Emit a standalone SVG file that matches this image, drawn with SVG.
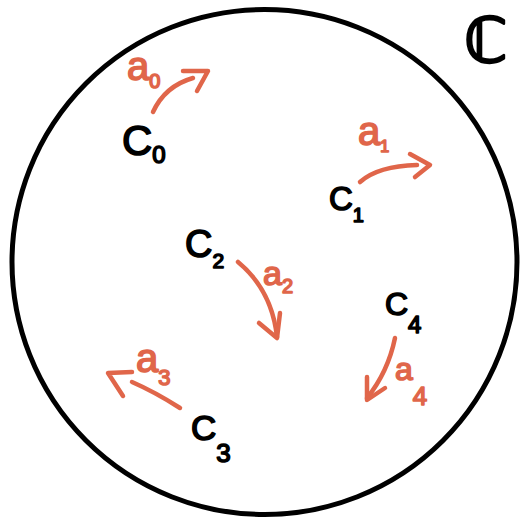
<svg xmlns="http://www.w3.org/2000/svg" width="520" height="519" viewBox="0 0 520 519">
<style>
.blk{font-family:"Liberation Sans","DejaVu Sans",sans-serif;fill:#000;stroke:#000;stroke-width:1.6;stroke-linejoin:round}
.org{font-family:"Liberation Sans","DejaVu Sans",sans-serif;fill:#E0664A;stroke:#E0664A;stroke-width:1.6;stroke-linejoin:round}
.arr{fill:none;stroke:#E0664A;stroke-width:4.5;stroke-linecap:round;stroke-linejoin:round}
</style>
<rect width="520" height="519" fill="#fff"/>
<g id="set">
<circle cx="264.5" cy="262" r="252.5" fill="none" stroke="#000" stroke-width="5"/>
<text x="464" y="62" font-family="DejaVu Sans,sans-serif" font-size="62" fill="#000" stroke="#000" stroke-width="2.5" stroke-linejoin="round">ℂ</text>
</g>
<g id="c0"><text class="blk" x="122" y="155" font-size="42">C<tspan font-size="24" dy="8">0</tspan></text></g>
<g id="c1"><text class="blk" x="329" y="210" font-size="33">C<tspan font-size="20" dy="12">1</tspan></text></g>
<g id="c2"><text class="blk" x="185" y="257" font-size="38">C<tspan font-size="21" dy="11">2</tspan></text></g>
<g id="c3"><text class="blk" x="191" y="440" font-size="35">C<tspan font-size="26" dy="22">3</tspan></text></g>
<g id="c4"><text class="blk" x="385" y="315" font-size="32">C<tspan font-size="24" dy="18">4</tspan></text></g>
<g id="connectors">
<g id="a0">
<path class="arr" d="M153 112 Q165 86 193 78"/>
<polyline class="arr" points="183,71 208,71 197,91"/>
<text class="org" x="127" y="80" font-size="40">a<tspan font-size="20" dy="8">0</tspan></text>
</g>
<g id="a1">
<path class="arr" d="M360 182 Q378 166 417 165"/>
<polyline class="arr" points="410,154 430,165 415,177"/>
<text class="org" x="358" y="145" font-size="40">a<tspan font-size="16" dy="7">1</tspan></text>
</g>
<g id="a2">
<path class="arr" d="M238 262 Q272 290 277 337"/>
<polyline class="arr" points="259,323 277,338 280,313"/>
<text class="org" x="263" y="285" font-size="34">a<tspan font-size="20" dy="8">2</tspan></text>
</g>
<g id="a3">
<path class="arr" d="M180 408 Q155 392 132 382"/>
<polyline class="arr" points="132,372 108,373 123,396"/>
<text class="org" x="136" y="372" font-size="40">a<tspan font-size="22" dy="13">3</tspan></text>
</g>
<g id="a4">
<path class="arr" d="M395 338 Q388 372 367 398"/>
<polyline class="arr" points="367,377 367,400 385,388"/>
<text class="org" x="395" y="380" font-size="32">a<tspan font-size="26" dy="25">4</tspan></text>
</g>
</g>
</svg>
